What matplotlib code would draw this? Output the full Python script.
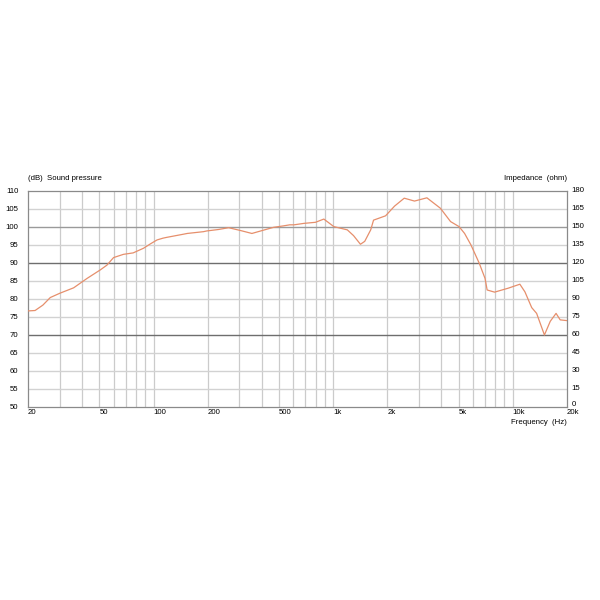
import matplotlib
matplotlib.use("Agg")
import matplotlib.pyplot as plt
from matplotlib import transforms

plt.rcParams['font.family'] = ['Liberation Sans', 'DejaVu Sans']

# Sound pressure response (frequency in Hz, level in dB)
freq_hz = [20, 20.3, 21.9, 24.2, 26.6, 30.1, 35.9, 42.6, 50.6, 55, 59.9, 68, 77, 88,
           96, 104.6, 113, 118, 147, 154, 190, 198, 230, 262, 306, 353, 429, 466, 528,
           574, 606, 688, 798, 888, 1010, 1200, 1300, 1420, 1500, 1620, 1680, 1960,
           2200, 2490, 2840, 3330, 3960, 4510, 5030, 5400, 5860, 6520, 7020, 7210,
           7930, 9450, 10970, 11700, 12770, 13600, 15030, 16200, 17450, 18400, 20000]
spl_db = [76.7, 76.7, 76.8, 78.3, 80.4, 81.6, 83.1, 85.7, 88.1, 89.4, 91.5, 92.4, 92.8,
          94.1, 95.3, 96.4, 96.9, 97.1, 98.0, 98.2, 98.7, 98.9, 99.3, 99.8, 99.0, 98.2,
          99.4, 99.9, 100.3, 100.6, 100.6, 101.0, 101.3, 102.2, 100.1, 99.2, 97.6, 95.2,
          96.0, 99.2, 101.9, 103.1, 105.8, 108.0, 107.2, 108.1, 105.2, 101.5, 100.1,
          98.2, 95.0, 89.9, 85.7, 82.5, 81.9, 83.0, 84.1, 82.0, 77.6, 76.0, 70.0, 73.8,
          76.0, 74.2, 74.0]

x_ticks = [20, 50, 100, 200, 500, 1000, 2000, 5000, 10000, 20000]
x_labels = ['20', '50', '100', '200', '500', '1k', '2k', '5k', '10k', '20k']
minor_grid = [30, 40, 60, 70, 80, 90, 300, 400, 600, 700, 800, 900,
              3000, 4000, 6000, 7000, 8000, 9000]
db_ticks = list(range(50, 111, 5))
ohm_ticks = list(range(0, 181, 15))

FS = 5.6
fig = plt.figure(figsize=(6, 6), dpi=100)
ax = fig.add_axes([0.0467, 0.3217, 0.8978, 0.36])
ax.set_xscale('log')
ax.set_xlim(20, 20000)
ax.set_ylim(50, 110)

# grid
for f in x_ticks[1:-1] + minor_grid:
    ax.axvline(f, color='#cbcbcb', lw=0.9, zorder=1)
for d in db_ticks[1:-1]:
    if d in (70, 90):
        c = '#6e6e6e'
    elif d == 100:
        c = '#9a9a9a'
    else:
        c = '#d2d2d2'
    ax.axhline(d, color=c, lw=1.0, zorder=1)

ax.plot(freq_hz, spl_db, color='#e68f6c', lw=0.9, zorder=3)

for s in ax.spines.values():
    s.set_color('#8a8a8a')
    s.set_linewidth(0.9)

ax.set_yticks(db_ticks)
ax.set_yticklabels([str(v) for v in db_ticks], fontsize=FS)
ax.tick_params(axis='y', length=0, pad=7)
ax.set_xticks(x_ticks)
ax.set_xticklabels([])
ax.xaxis.set_minor_locator(matplotlib.ticker.NullLocator())
ax.tick_params(axis='x', length=0)
for f, lab in zip(x_ticks, x_labels):
    ax.text(f, 49.3, lab, ha='left', va='top', fontsize=FS)

# right impedance axis labels
ytrans = ax.get_yaxis_transform()
for v in ohm_ticks:
    yy = 50 + v / 3.0
    tr = ytrans
    if v == 0:
        tr = ytrans + transforms.ScaledTranslation(0, 2.5 / 100, fig.dpi_scale_trans)
    ax.text(1.0095, yy, str(v), ha='left', va='center', fontsize=FS, transform=tr)

fig.text(0.0467, 0.697, '(dB)  Sound pressure', fontsize=FS, ha='left', va='bottom')
fig.text(0.9445, 0.697, 'Impedance  (ohm)', fontsize=FS, ha='right', va='bottom')
fig.text(0.9445, 0.302, 'Frequency  (Hz)', fontsize=FS, ha='right', va='top')

fig.savefig('out.png', dpi=100, facecolor='white')
